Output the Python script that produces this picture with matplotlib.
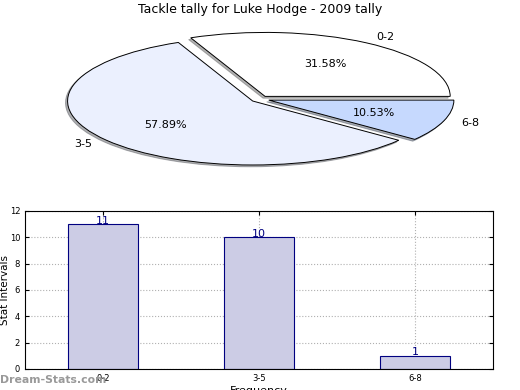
import matplotlib
matplotlib.use("Agg")
import matplotlib.pyplot as plt

pie_labels = ["0-2", "3-5", "6-8"]
pie_values = [6, 11, 2]
pie_colors = ["#ffffff", "#ebf0fe", "#c6d9fe"]

bar_labels = ["0-2", "3-5", "6-8"]
bar_values = [11, 10, 1]

fig = plt.figure(figsize=(5.2, 3.9), dpi=100)

# pie on top, squashed (no equal aspect)
ax1 = fig.add_axes([0.055, 0.541, 0.89, 0.41])
wedges, texts, autotexts = ax1.pie(pie_values, labels=pie_labels, colors=pie_colors,
                                   explode=[0.05, 0.05, 0.05], autopct="%.2f%%",
                                   shadow=dict(ox=-0.008, oy=-0.02, shade=0.6),
                                   startangle=0, counterclock=True,
                                   wedgeprops=dict(edgecolor="black", linewidth=0.7),
                                   textprops=dict(fontsize=8))
ax1.set_aspect("auto")
fig.text(0.5, 0.975, "Tackle tally for Luke Hodge - 2009 tally", ha="center", va="center", fontsize=9)

# bar chart below
ax2 = fig.add_axes([0.048, 0.054, 0.9, 0.405])
x = range(len(bar_values))
ax2.bar(x, bar_values, width=0.45, color="#cccce5", edgecolor="#000080", linewidth=0.8, zorder=2)
for i, v in zip(x, bar_values):
    ax2.text(i, v - 0.12, str(v), ha="center", va="bottom", color="#000080", fontsize=8, zorder=3)
ax2.set_xlim(-0.5, 2.5)
ax2.set_ylim(0, 12)
ax2.set_xticks(list(x))
ax2.set_xticklabels(bar_labels)
ax2.set_yticks(range(0, 13, 2))
ax2.tick_params(labelsize=6, direction="in", top=True, right=True, length=3)
ax2.grid(True, linestyle=":", color="#b0b0b0", linewidth=0.8, zorder=0)
ax2.set_axisbelow(True)
ax2.set_ylabel("Stat Intervals", fontsize=7.5, labelpad=0)
ax2.set_xlabel("Frequency", fontsize=8, labelpad=2)

fig.text(0.0, 0.026, "Dream-Stats.com", color="#999999", fontsize=7.8, fontweight="bold",
         ha="left", va="center")

fig.savefig("out.png", dpi=100)
